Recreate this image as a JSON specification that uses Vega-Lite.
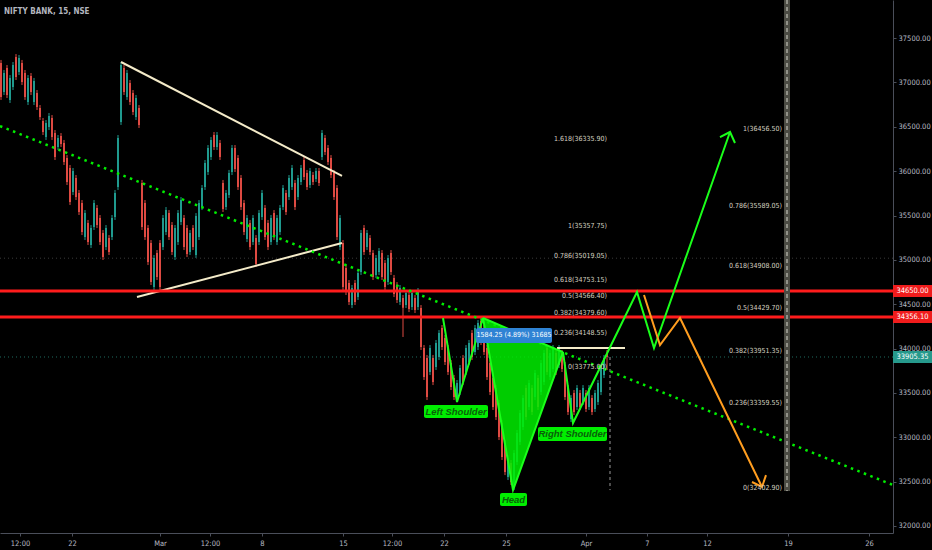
{
"$schema":"https://vega.github.io/schema/vega-lite/v6.json",
"width":893,"height":533,
"autosize":{"type":"none"},
"padding":{"left":0,"top":0,"right":39,"bottom":17},
"background":"#000000",
"config":{"view":{"stroke":null},"axis":{"domainColor":"#4a4e59","tickColor":"#4a4e59","labelColor":"#b8bbc4","labelFont":"Liberation Sans Narrow, DejaVu Sans Condensed, sans-serif","labelFontSize":7.5,"grid":false,"tickSize":3}},
"title":{"text":"NIFTY BANK, 15, NSE","anchor":"start","frame":"group","offset":0,"dx":4,"dy":25,"baseline":"alphabetic","color":"#b2b5be","font":"Liberation Sans Narrow, DejaVu Sans Condensed, sans-serif","fontSize":8,"fontWeight":"bold"},
"datasets":{
"candles":[
{"x":1,"o":37220,"h":37254,"l":36803,"c":36837},
{"x":4,"o":36893,"h":37141,"l":36859,"c":37107},
{"x":7,"o":37163,"h":37197,"l":36825,"c":36859},
{"x":10,"o":36803,"h":37084,"l":36769,"c":37050},
{"x":13,"o":36949,"h":37231,"l":36915,"c":37197},
{"x":16,"o":37287,"h":37321,"l":37028,"c":37062},
{"x":19,"o":37118,"h":37310,"l":37084,"c":37276},
{"x":22,"o":37220,"h":37254,"l":36972,"c":37006},
{"x":25,"o":37107,"h":37141,"l":36803,"c":36837},
{"x":28,"o":36780,"h":37084,"l":36746,"c":37050},
{"x":31,"o":37073,"h":37107,"l":36859,"c":36893},
{"x":34,"o":36780,"h":37051,"l":36746,"c":37017},
{"x":37,"o":36881,"h":36915,"l":36690,"c":36724},
{"x":40,"o":36712,"h":36746,"l":36577,"c":36611},
{"x":43,"o":36566,"h":36600,"l":36408,"c":36442},
{"x":46,"o":36386,"h":36577,"l":36352,"c":36543},
{"x":49,"o":36498,"h":36656,"l":36464,"c":36622},
{"x":52,"o":36599,"h":36633,"l":36352,"c":36386},
{"x":55,"o":36430,"h":36464,"l":36126,"c":36160},
{"x":58,"o":36273,"h":36408,"l":36239,"c":36374},
{"x":61,"o":36396,"h":36430,"l":36273,"c":36307},
{"x":64,"o":36318,"h":36352,"l":36070,"c":36104},
{"x":67,"o":36148,"h":36182,"l":35844,"c":35878},
{"x":70,"o":36036,"h":36070,"l":35619,"c":35653},
{"x":73,"o":35765,"h":36036,"l":35731,"c":36002},
{"x":76,"o":35923,"h":35957,"l":35675,"c":35709},
{"x":79,"o":35754,"h":35788,"l":35506,"c":35540},
{"x":82,"o":35641,"h":35675,"l":35280,"c":35314},
{"x":85,"o":35258,"h":35562,"l":35224,"c":35528},
{"x":88,"o":35416,"h":35450,"l":35168,"c":35202},
{"x":91,"o":35168,"h":35393,"l":35134,"c":35359},
{"x":94,"o":35371,"h":35675,"l":35337,"c":35641},
{"x":97,"o":35585,"h":35619,"l":35359,"c":35393},
{"x":100,"o":35472,"h":35506,"l":35168,"c":35202},
{"x":103,"o":35303,"h":35337,"l":34999,"c":35033},
{"x":106,"o":35145,"h":35393,"l":35111,"c":35359},
{"x":109,"o":35246,"h":35280,"l":35055,"c":35089},
{"x":112,"o":35258,"h":35506,"l":35224,"c":35472},
{"x":115,"o":35484,"h":35788,"l":35450,"c":35754},
{"x":118,"o":35822,"h":36408,"l":35788,"c":36374},
{"x":121,"o":36555,"h":37231,"l":36521,"c":37197},
{"x":124,"o":37163,"h":37197,"l":36859,"c":36893},
{"x":127,"o":36837,"h":37141,"l":36803,"c":37107},
{"x":130,"o":36994,"h":37028,"l":36746,"c":36780},
{"x":133,"o":36881,"h":36915,"l":36633,"c":36667},
{"x":136,"o":36611,"h":36859,"l":36577,"c":36825},
{"x":139,"o":36712,"h":36746,"l":36487,"c":36521},
{"x":142,"o":35867,"h":35901,"l":35337,"c":35371},
{"x":145,"o":35641,"h":35675,"l":35224,"c":35258},
{"x":148,"o":35359,"h":35393,"l":34942,"c":34976},
{"x":151,"o":35190,"h":35224,"l":34717,"c":34751},
{"x":154,"o":34694,"h":35055,"l":34660,"c":35021},
{"x":157,"o":35077,"h":35111,"l":34773,"c":34807},
{"x":160,"o":35190,"h":35224,"l":34660,"c":34694},
{"x":163,"o":35145,"h":35506,"l":35111,"c":35472},
{"x":166,"o":35314,"h":35596,"l":35280,"c":35562},
{"x":169,"o":35528,"h":35562,"l":35224,"c":35258},
{"x":172,"o":35393,"h":35427,"l":35055,"c":35089},
{"x":175,"o":35033,"h":35393,"l":34999,"c":35359},
{"x":178,"o":35202,"h":35562,"l":35168,"c":35528},
{"x":181,"o":35427,"h":35709,"l":35393,"c":35675},
{"x":184,"o":35472,"h":35506,"l":35111,"c":35145},
{"x":187,"o":35359,"h":35393,"l":35032,"c":35066},
{"x":190,"o":35089,"h":35337,"l":35055,"c":35303},
{"x":193,"o":35359,"h":35393,"l":35111,"c":35145},
{"x":196,"o":35055,"h":35528,"l":35021,"c":35494},
{"x":199,"o":35258,"h":35675,"l":35224,"c":35641},
{"x":202,"o":35596,"h":35844,"l":35562,"c":35810},
{"x":205,"o":35822,"h":36126,"l":35788,"c":36092},
{"x":208,"o":35991,"h":36295,"l":35957,"c":36261},
{"x":211,"o":36160,"h":36385,"l":36126,"c":36351},
{"x":214,"o":36408,"h":36442,"l":36239,"c":36273},
{"x":217,"o":36273,"h":36442,"l":36239,"c":36408},
{"x":220,"o":36318,"h":36352,"l":36126,"c":36160},
{"x":223,"o":35867,"h":35901,"l":35540,"c":35574},
{"x":226,"o":35596,"h":35788,"l":35562,"c":35754},
{"x":229,"o":35732,"h":36014,"l":35698,"c":35980},
{"x":232,"o":35991,"h":36295,"l":35957,"c":36261},
{"x":235,"o":36261,"h":36295,"l":35991,"c":36025},
{"x":238,"o":36148,"h":36182,"l":35788,"c":35822},
{"x":241,"o":35923,"h":35957,"l":35562,"c":35596},
{"x":244,"o":35641,"h":35675,"l":35280,"c":35314},
{"x":247,"o":35235,"h":35506,"l":35201,"c":35472},
{"x":250,"o":35416,"h":35450,"l":35111,"c":35145},
{"x":253,"o":35202,"h":35506,"l":35168,"c":35472},
{"x":256,"o":35246,"h":35280,"l":34920,"c":34954},
{"x":259,"o":35202,"h":35562,"l":35168,"c":35528},
{"x":262,"o":35484,"h":35788,"l":35450,"c":35754},
{"x":265,"o":35585,"h":35619,"l":35224,"c":35258},
{"x":268,"o":35416,"h":35450,"l":35111,"c":35145},
{"x":271,"o":35202,"h":35506,"l":35168,"c":35472},
{"x":274,"o":35528,"h":35562,"l":35224,"c":35258},
{"x":277,"o":35202,"h":35506,"l":35168,"c":35472},
{"x":280,"o":35314,"h":35619,"l":35280,"c":35585},
{"x":283,"o":35596,"h":35844,"l":35562,"c":35810},
{"x":286,"o":35754,"h":35788,"l":35506,"c":35540},
{"x":289,"o":35709,"h":35957,"l":35675,"c":35923},
{"x":292,"o":35822,"h":36070,"l":35788,"c":36036},
{"x":295,"o":35867,"h":35901,"l":35562,"c":35596},
{"x":298,"o":35709,"h":35957,"l":35675,"c":35923},
{"x":301,"o":35878,"h":36070,"l":35844,"c":36036},
{"x":304,"o":36126,"h":36160,"l":35901,"c":35935},
{"x":307,"o":35980,"h":36014,"l":35788,"c":35822},
{"x":310,"o":35844,"h":36036,"l":35810,"c":36002},
{"x":313,"o":35957,"h":35991,"l":35844,"c":35878},
{"x":316,"o":35912,"h":36036,"l":35878,"c":36002},
{"x":319,"o":36002,"h":36036,"l":35833,"c":35867},
{"x":322,"o":36160,"h":36464,"l":36126,"c":36430},
{"x":325,"o":36374,"h":36408,"l":36182,"c":36216},
{"x":328,"o":36261,"h":36295,"l":36070,"c":36104},
{"x":331,"o":36148,"h":36182,"l":35923,"c":35957},
{"x":334,"o":35980,"h":36014,"l":35675,"c":35709},
{"x":337,"o":35810,"h":35844,"l":35224,"c":35258},
{"x":340,"o":35145,"h":35506,"l":35111,"c":35472},
{"x":343,"o":35190,"h":35224,"l":34660,"c":34694},
{"x":346,"o":34908,"h":34942,"l":34604,"c":34638},
{"x":349,"o":34739,"h":34773,"l":34491,"c":34525},
{"x":352,"o":34491,"h":34717,"l":34457,"c":34683},
{"x":355,"o":34739,"h":34773,"l":34491,"c":34525},
{"x":358,"o":34582,"h":34886,"l":34548,"c":34852},
{"x":361,"o":34864,"h":35337,"l":34830,"c":35303},
{"x":364,"o":35359,"h":35393,"l":35055,"c":35089},
{"x":367,"o":35145,"h":35337,"l":35111,"c":35303},
{"x":370,"o":35246,"h":35280,"l":35055,"c":35089},
{"x":373,"o":35077,"h":35111,"l":34773,"c":34807},
{"x":376,"o":34830,"h":35055,"l":34796,"c":35021},
{"x":379,"o":34864,"h":35134,"l":34830,"c":35100},
{"x":382,"o":35077,"h":35111,"l":34773,"c":34807},
{"x":385,"o":34965,"h":34999,"l":34660,"c":34694},
{"x":388,"o":34751,"h":35055,"l":34717,"c":35021},
{"x":391,"o":35077,"h":35111,"l":34830,"c":34864},
{"x":394,"o":34796,"h":34830,"l":34581,"c":34615},
{"x":397,"o":34716,"h":34750,"l":34514,"c":34548},
{"x":400,"o":34525,"h":34717,"l":34491,"c":34683},
{"x":403,"o":34570,"h":34604,"l":34131,"c":34460},
{"x":406,"o":34491,"h":34660,"l":34457,"c":34626},
{"x":409,"o":34604,"h":34638,"l":34412,"c":34446},
{"x":412,"o":34469,"h":34660,"l":34435,"c":34626},
{"x":415,"o":34570,"h":34604,"l":34401,"c":34435},
{"x":418,"o":34469,"h":34683,"l":34435,"c":34649},
{"x":421,"o":34457,"h":34491,"l":33984,"c":34018},
{"x":424,"o":34006,"h":34040,"l":33646,"c":33680},
{"x":427,"o":33894,"h":33928,"l":33420,"c":33454},
{"x":430,"o":33736,"h":34040,"l":33702,"c":34006},
{"x":433,"o":33894,"h":33928,"l":33589,"c":33623},
{"x":436,"o":33793,"h":34097,"l":33759,"c":34063},
{"x":439,"o":33905,"h":34209,"l":33871,"c":34175},
{"x":442,"o":34232,"h":34266,"l":33984,"c":34018},
{"x":445,"o":34119,"h":34153,"l":33815,"c":33849},
{"x":448,"o":34006,"h":34040,"l":33702,"c":33736},
{"x":451,"o":33837,"h":33871,"l":33533,"c":33567},
{"x":454,"o":33668,"h":33702,"l":33420,"c":33454},
{"x":457,"o":33432,"h":33646,"l":33398,"c":33612},
{"x":460,"o":33510,"h":33815,"l":33476,"c":33781},
{"x":463,"o":33894,"h":33928,"l":33589,"c":33623},
{"x":466,"o":33736,"h":34040,"l":33702,"c":34006},
{"x":469,"o":33849,"h":34097,"l":33815,"c":34063},
{"x":472,"o":34175,"h":34209,"l":33871,"c":33905},
{"x":475,"o":33962,"h":34266,"l":33928,"c":34232},
{"x":478,"o":34018,"h":34322,"l":33984,"c":34288},
{"x":481,"o":34311,"h":34345,"l":34040,"c":34074},
{"x":484,"o":34232,"h":34266,"l":33928,"c":33962},
{"x":487,"o":34006,"h":34040,"l":33646,"c":33680},
{"x":490,"o":33837,"h":33871,"l":33476,"c":33510},
{"x":493,"o":33668,"h":33702,"l":33308,"c":33342},
{"x":496,"o":33555,"h":33589,"l":33195,"c":33229},
{"x":499,"o":33386,"h":33420,"l":32969,"c":33003},
{"x":502,"o":33161,"h":33195,"l":32744,"c":32778},
{"x":505,"o":32935,"h":32969,"l":32574,"c":32608},
{"x":508,"o":32552,"h":32800,"l":32518,"c":32766},
{"x":511,"o":32710,"h":32744,"l":32462,"c":32496},
{"x":514,"o":32439,"h":32856,"l":32405,"c":32822},
{"x":517,"o":32721,"h":33082,"l":32687,"c":33048},
{"x":520,"o":32947,"h":33308,"l":32913,"c":33274},
{"x":523,"o":33116,"h":33476,"l":33082,"c":33442},
{"x":526,"o":33555,"h":33589,"l":33195,"c":33229},
{"x":529,"o":33342,"h":33646,"l":33308,"c":33612},
{"x":532,"o":33555,"h":33589,"l":33251,"c":33285},
{"x":535,"o":33454,"h":33759,"l":33420,"c":33725},
{"x":538,"o":33668,"h":33702,"l":33308,"c":33342},
{"x":541,"o":33510,"h":33871,"l":33476,"c":33837},
{"x":544,"o":33623,"h":33984,"l":33589,"c":33950},
{"x":547,"o":34006,"h":34040,"l":33702,"c":33736},
{"x":550,"o":33680,"h":33984,"l":33646,"c":33950},
{"x":553,"o":33770,"h":34040,"l":33736,"c":34006},
{"x":556,"o":33950,"h":33984,"l":33702,"c":33736},
{"x":559,"o":33815,"h":34040,"l":33781,"c":34006},
{"x":562,"o":33950,"h":33984,"l":33736,"c":33770},
{"x":565,"o":33814,"h":33848,"l":33420,"c":33454},
{"x":568,"o":33555,"h":33589,"l":33251,"c":33285},
{"x":571,"o":33206,"h":33476,"l":33172,"c":33442},
{"x":574,"o":33499,"h":33533,"l":33251,"c":33285},
{"x":577,"o":33342,"h":33589,"l":33308,"c":33555},
{"x":580,"o":33499,"h":33533,"l":33308,"c":33342},
{"x":583,"o":33398,"h":33589,"l":33364,"c":33555},
{"x":586,"o":33499,"h":33533,"l":33285,"c":33319},
{"x":589,"o":33342,"h":33589,"l":33308,"c":33555},
{"x":592,"o":33442,"h":33476,"l":33251,"c":33285},
{"x":595,"o":33319,"h":33533,"l":33285,"c":33499},
{"x":598,"o":33398,"h":33646,"l":33364,"c":33612},
{"x":601,"o":33510,"h":33815,"l":33476,"c":33781},
{"x":604,"o":33702,"h":33928,"l":33668,"c":33894},
{"x":607,"o":33950,"h":33984,"l":33759,"c":33905}
],
"lines":[
{"s":"tt","x":121,"p":37231},{"s":"tt","x":342,"p":35946},
{"s":"tb","x":137,"p":34581},{"s":"tb","x":342,"p":35190},
{"s":"nk","x":557,"p":34006},{"s":"nk","x":625,"p":34006},
{"s":"dot","x":0,"p":36509},{"s":"dot","x":893,"p":32462},
{"s":"g1","x":443,"p":34345},{"s":"g1","x":457,"p":33398},{"s":"g1","x":483,"p":34345},{"s":"g1","x":513,"p":32405},{"s":"g1","x":563,"p":33961},{"s":"g1","x":573,"p":33161},{"s":"g1","x":637,"p":34638},{"s":"g1","x":654,"p":34006},{"s":"g1","x":730,"p":36442},
{"s":"g2","x":720,"p":36385},{"s":"g2","x":730,"p":36442},{"s":"g2","x":735,"p":36318},
{"s":"tri","x":483,"p":34345},{"s":"tri","x":563,"p":33961},
{"s":"o1","x":644,"p":34604},{"s":"o1","x":660,"p":34040},{"s":"o1","x":680,"p":34345},{"s":"o1","x":762,"p":32440},
{"s":"o2","x":752,"p":32496},{"s":"o2","x":762,"p":32440},{"s":"o2","x":766,"p":32574}
],
"fill":[{"x":483,"p":34345,"p2":34345},{"x":513,"p":32405,"p2":34201},{"x":563,"p":33961,"p2":33961}],
"levels":[{"k":"r","p":34650},{"k":"r","p":34356.1},{"k":"g","p":35019.05},{"k":"c","p":33905.35}],
"vlines":[{"k":"band","x":787,"p":37930,"p2":32394},{"k":"dash","x":610,"p":33905,"p2":32405}],
"fib":[
{"x":607,"p":36335.9,"t":"1.618(36335.90)"},{"x":607,"p":35357.75,"t":"1(35357.75)"},{"x":607,"p":35019.05,"t":"0.786(35019.05)"},{"x":607,"p":34753.15,"t":"0.618(34753.15)"},{"x":607,"p":34566.4,"t":"0.5(34566.40)"},{"x":607,"p":34379.6,"t":"0.382(34379.60)"},{"x":607,"p":34148.55,"t":"0.236(34148.55)"},{"x":607,"p":33775,"t":"0(33775.00)"},
{"x":782,"p":36456.5,"t":"1(36456.50)"},{"x":782,"p":35589.05,"t":"0.786(35589.05)"},{"x":782,"p":34908,"t":"0.618(34908.00)"},{"x":782,"p":34429.7,"t":"0.5(34429.70)"},{"x":782,"p":33951.35,"t":"0.382(33951.35)"},{"x":782,"p":33359.55,"t":"0.236(33359.55)"},{"x":782,"p":32402.9,"t":"0(32402.90)"}
],
"boxes":[
{"k":"hs","t":"Left Shoulder","x":424,"x2":488,"p":33364,"p2":33217,"xm":456,"pm":33290},
{"k":"hs","t":"Head","x":500,"x2":527,"p":32371,"p2":32225,"xm":513.5,"pm":32298},
{"k":"hs","t":"Right Shoulder","x":538,"x2":607,"p":33116,"p2":32958,"xm":572.5,"pm":33037},
{"k":"b","t":"1584.25 (4.89%) 31685","x":476,"x2":552,"p":34232,"p2":34063,"xm":514,"pm":34148}
],
"tags":[{"k":"r","p":34650,"t":"34650.00"},{"k":"r","p":34356.1,"t":"34356.10"},{"k":"c","p":33905.35,"t":"33905.35"}]
},
"layer":[
{"data":{"name":"candles"},"mark":{"type":"rule","strokeWidth":1},
 "encoding":{
  "x":{"field":"x","type":"quantitative","title":null,"scale":{"domain":[0,893],"nice":false,"zero":false},
   "axis":{"title":null,"values":[20,72,160,210,262,343,392,444,506,586,647,707,788,869],"labelExpr":"datum.value==20?'12:00':datum.value==72?'22':datum.value==160?'Mar':datum.value==210?'12:00':datum.value==262?'8':datum.value==343?'15':datum.value==392?'12:00':datum.value==444?'22':datum.value==506?'25':datum.value==586?'Apr':datum.value==647?'7':datum.value==707?'12':datum.value==788?'19':'26'","labelFlush":false,"labelOverlap":false,"labelPadding":3}},
  "y":{"field":"l","type":"quantitative","title":null,"scale":{"domain":[31921,37930],"nice":false,"zero":false},
   "axis":{"title":null,"orient":"right","values":[32000,32250,32500,32750,33000,33250,33500,33750,34000,34250,34500,34750,35000,35250,35500,35750,36000,36250,36500,36750,37000,37250,37500,37750],"format":".2f","labelOverlap":false,"labelPadding":2}},
  "y2":{"field":"h"},
  "color":{"condition":{"test":"datum.c>=datum.o","value":"#1f9a8e"},"value":"#de4a42"}}},
{"data":{"name":"levels"},"transform":[{"filter":"datum.k=='g'"}],"mark":{"type":"rule","color":"#3a3a3a","strokeDash":[1,3],"strokeWidth":1},
 "encoding":{"y":{"field":"p","type":"quantitative","title":null,"scale":{"domain":[31921,37930],"nice":false,"zero":false}}}},
{"data":{"name":"levels"},"transform":[{"filter":"datum.k=='c'"}],"mark":{"type":"rule","color":"#1f6b60","strokeDash":[1,3],"strokeWidth":1},
 "encoding":{"y":{"field":"p","type":"quantitative","title":null,"scale":{"domain":[31921,37930],"nice":false,"zero":false}}}},
{"data":{"name":"candles"},"mark":{"type":"rule","strokeWidth":2},
 "encoding":{
  "x":{"field":"x","type":"quantitative","title":null,"scale":{"domain":[0,893],"nice":false,"zero":false}},
  "y":{"field":"o","type":"quantitative","title":null,"scale":{"domain":[31921,37930],"nice":false,"zero":false}},
  "y2":{"field":"c"},
  "color":{"condition":{"test":"datum.c>=datum.o","value":"#1f9a8e"},"value":"#de4a42"}}},
{"data":{"name":"lines"},"transform":[{"filter":"indexof(['tt','tb','nk'],datum.s)>=0"}],"mark":{"type":"line","color":"#f4ebc9","strokeWidth":2},
 "encoding":{"x":{"field":"x","type":"quantitative","title":null,"scale":{"domain":[0,893],"nice":false,"zero":false}},
  "y":{"field":"p","type":"quantitative","title":null,"scale":{"domain":[31921,37930],"nice":false,"zero":false}},"detail":{"field":"s"}}},
{"data":{"name":"levels"},"transform":[{"filter":"datum.k=='r'"}],"mark":{"type":"rule","color":"#ff1c1c","strokeWidth":3},
 "encoding":{"y":{"field":"p","type":"quantitative","title":null,"scale":{"domain":[31921,37930],"nice":false,"zero":false}}}},
{"data":{"name":"lines"},"transform":[{"filter":"datum.s=='dot'"}],"mark":{"type":"line","color":"#00ee00","strokeWidth":2.5,"strokeDash":[2.5,4.5]},
 "encoding":{"x":{"field":"x","type":"quantitative","title":null,"scale":{"domain":[0,893],"nice":false,"zero":false}},
  "y":{"field":"p","type":"quantitative","title":null,"scale":{"domain":[31921,37930],"nice":false,"zero":false}}}},
{"data":{"name":"fill"},"mark":{"type":"area","color":"#00f000","opacity":0.85},
 "encoding":{"x":{"field":"x","type":"quantitative","title":null,"scale":{"domain":[0,893],"nice":false,"zero":false}},
  "y":{"field":"p","type":"quantitative","title":null,"scale":{"domain":[31921,37930],"nice":false,"zero":false}},"y2":{"field":"p2"}}},
{"data":{"name":"lines"},"transform":[{"filter":"indexof(['g1','g2','tri'],datum.s)>=0"}],"mark":{"type":"line","color":"#1aff1a","strokeWidth":2},
 "encoding":{"x":{"field":"x","type":"quantitative","title":null,"scale":{"domain":[0,893],"nice":false,"zero":false}},
  "y":{"field":"p","type":"quantitative","title":null,"scale":{"domain":[31921,37930],"nice":false,"zero":false}},"detail":{"field":"s"}}},
{"data":{"name":"lines"},"transform":[{"filter":"indexof(['o1','o2'],datum.s)>=0"}],"mark":{"type":"line","color":"#ff9d1f","strokeWidth":2},
 "encoding":{"x":{"field":"x","type":"quantitative","title":null,"scale":{"domain":[0,893],"nice":false,"zero":false}},
  "y":{"field":"p","type":"quantitative","title":null,"scale":{"domain":[31921,37930],"nice":false,"zero":false}},"detail":{"field":"s"}}},
{"data":{"name":"vlines"},"transform":[{"filter":"datum.k=='band'"}],"mark":{"type":"rule","color":"#4b4b43","strokeWidth":6},
 "encoding":{"x":{"field":"x","type":"quantitative","title":null,"scale":{"domain":[0,893],"nice":false,"zero":false}},
  "y":{"field":"p","type":"quantitative","title":null,"scale":{"domain":[31921,37930],"nice":false,"zero":false}},"y2":{"field":"p2"}}},
{"data":{"name":"vlines"},"transform":[{"filter":"datum.k=='band'"}],"mark":{"type":"rule","color":"#d8d8ce","strokeWidth":1,"strokeDash":[4,3]},
 "encoding":{"x":{"field":"x","type":"quantitative","title":null,"scale":{"domain":[0,893],"nice":false,"zero":false}},
  "y":{"field":"p","type":"quantitative","title":null,"scale":{"domain":[31921,37930],"nice":false,"zero":false}},"y2":{"field":"p2"}}},
{"data":{"name":"vlines"},"transform":[{"filter":"datum.k=='dash'"}],"mark":{"type":"rule","color":"#9a9a9a","strokeWidth":1,"strokeDash":[3,3]},
 "encoding":{"x":{"field":"x","type":"quantitative","title":null,"scale":{"domain":[0,893],"nice":false,"zero":false}},
  "y":{"field":"p","type":"quantitative","title":null,"scale":{"domain":[31921,37930],"nice":false,"zero":false}},"y2":{"field":"p2"}}},
{"data":{"name":"fib"},"mark":{"type":"text","align":"right","baseline":"bottom","dy":1,"color":"#d6d1c0","font":"Liberation Sans Narrow, DejaVu Sans Condensed, sans-serif","fontSize":7},
 "encoding":{"x":{"field":"x","type":"quantitative","title":null,"scale":{"domain":[0,893],"nice":false,"zero":false}},
  "y":{"field":"p","type":"quantitative","title":null,"scale":{"domain":[31921,37930],"nice":false,"zero":false}},"text":{"field":"t"}}},
{"data":{"name":"boxes"},"mark":{"type":"rect","cornerRadius":2},
 "encoding":{"x":{"field":"x","type":"quantitative","title":null,"scale":{"domain":[0,893],"nice":false,"zero":false}},"x2":{"field":"x2"},
  "y":{"field":"p","type":"quantitative","title":null,"scale":{"domain":[31921,37930],"nice":false,"zero":false}},"y2":{"field":"p2"},
  "color":{"condition":{"test":"datum.k=='b'","value":"#2f83d4"},"value":"#00ee00"}}},
{"data":{"name":"boxes"},"transform":[{"filter":"datum.k=='hs'"}],"mark":{"type":"text","align":"center","baseline":"middle","color":"#0a5e0a","font":"Liberation Sans, Arial, sans-serif","fontSize":9.5,"fontStyle":"italic","fontWeight":"bold"},
 "encoding":{"x":{"field":"xm","type":"quantitative","title":null,"scale":{"domain":[0,893],"nice":false,"zero":false}},
  "y":{"field":"pm","type":"quantitative","title":null,"scale":{"domain":[31921,37930],"nice":false,"zero":false}},"text":{"field":"t"}}},
{"data":{"name":"boxes"},"transform":[{"filter":"datum.k=='b'"}],"mark":{"type":"text","align":"center","baseline":"middle","color":"#ffffff","font":"Liberation Sans Narrow, DejaVu Sans Condensed, sans-serif","fontSize":7},
 "encoding":{"x":{"field":"xm","type":"quantitative","title":null,"scale":{"domain":[0,893],"nice":false,"zero":false}},
  "y":{"field":"pm","type":"quantitative","title":null,"scale":{"domain":[31921,37930],"nice":false,"zero":false}},"text":{"field":"t"}}},
{"data":{"name":"tags"},"mark":{"type":"point","shape":"M-1,-0.31H1V0.31H-1Z","size":1521,"filled":true,"opacity":1,"strokeWidth":0},
 "encoding":{"x":{"datum":912.5,"type":"quantitative","title":null,"scale":{"domain":[0,893],"nice":false,"zero":false}},
  "y":{"field":"p","type":"quantitative","title":null,"scale":{"domain":[31921,37930],"nice":false,"zero":false}},
  "color":{"condition":{"test":"datum.k=='c'","value":"#26998c"},"value":"#f01c1c"}}},
{"data":{"name":"tags"},"mark":{"type":"text","align":"center","baseline":"middle","color":"#ffffff","font":"Liberation Sans Narrow, DejaVu Sans Condensed, sans-serif","fontSize":7.5},
 "encoding":{"x":{"datum":912.5,"type":"quantitative","title":null,"scale":{"domain":[0,893],"nice":false,"zero":false}},
  "y":{"field":"p","type":"quantitative","title":null,"scale":{"domain":[31921,37930],"nice":false,"zero":false}},"text":{"field":"t"}}}
]
}
